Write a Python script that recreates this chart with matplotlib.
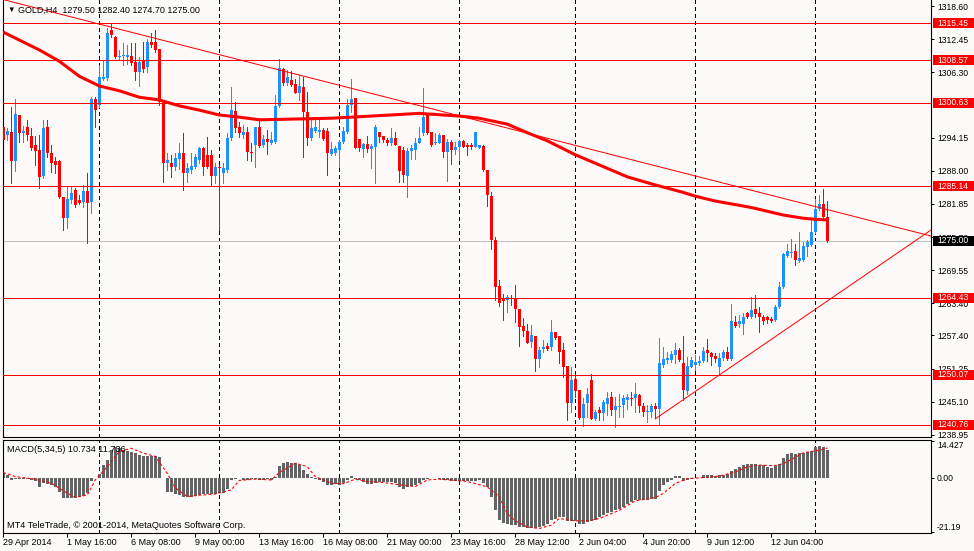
import matplotlib
matplotlib.use('Agg')
import matplotlib.pyplot as plt
import matplotlib.transforms as mtransforms
from matplotlib.patches import Rectangle

plt.rcParams['font.family'] = ['Liberation Sans', 'DejaVu Sans']

BG = '#fffafa'
BULL = '#1e90ff'
BEAR = '#ff0000'
HISTC = '#646464'

# GOLD H4 candles, bar 0 = 29 Apr 2014 00:00
opens = [
    1296.2, 1294.7, 1295.2, 1289.8, 1298.4, 1295.0, 1296.2, 1294.5, 1292.8, 1291.9,
    1287.0, 1296.2, 1291.3, 1289.8, 1289.8, 1283.1, 1279.2, 1282.6, 1284.4, 1282.6,
    1282.2, 1284.2, 1282.2, 1301.4, 1300.2, 1305.1, 1305.3, 1314.2, 1312.9, 1309.2,
    1309.4, 1309.2, 1309.4, 1308.3, 1306.4, 1308.6, 1307.3, 1312.0, 1312.0, 1310.7,
    1300.8, 1289.5, 1289.5, 1288.7, 1290.2, 1291.3, 1287.6, 1288.2, 1288.7, 1290.0,
    1292.3, 1291.0, 1291.0, 1287.0, 1288.7, 1287.6, 1288.2, 1294.1, 1299.1, 1296.2,
    1294.7, 1295.2, 1291.5, 1292.8, 1296.2, 1292.8, 1293.9, 1293.2, 1293.4, 1300.1,
    1306.9, 1304.3, 1304.9, 1304.2, 1302.5, 1303.6, 1299.0, 1294.1, 1295.4, 1295.2,
    1295.6, 1295.5, 1291.1, 1291.4, 1291.9, 1293.4, 1295.3, 1300.2, 1301.5, 1294.0,
    1292.0, 1293.0, 1292.0, 1292.4, 1295.3, 1294.5, 1293.7, 1293.2, 1294.1, 1292.6,
    1291.9, 1287.0, 1291.7, 1291.9, 1293.2, 1295.0, 1298.8, 1295.3, 1293.1, 1293.1,
    1294.7, 1291.6, 1293.4, 1291.8, 1292.4, 1293.6, 1292.8, 1292.8, 1292.4, 1292.2,
    1292.6, 1288.2, 1283.3, 1275.1, 1266.6, 1264.3, 1264.0, 1264.4, 1264.3, 1262.4,
    1259.1, 1258.3, 1256.2, 1257.3, 1253.1, 1254.8, 1255.4, 1255.3, 1258.1, 1257.3,
    1254.7, 1251.7, 1244.8, 1249.4, 1247.2, 1242.0, 1244.8, 1249.1, 1241.8, 1243.5,
    1243.0, 1244.6, 1245.9, 1243.5, 1244.1, 1244.5, 1245.4, 1245.8, 1245.7, 1246.3,
    1244.3, 1243.2, 1243.2, 1244.3, 1243.7, 1251.9, 1252.9, 1252.9, 1253.8, 1254.7,
    1252.3, 1247.1, 1251.6, 1251.9, 1252.2, 1252.7, 1254.7, 1254.2, 1253.5, 1251.6,
    1253.3, 1254.4, 1253.1, 1259.9, 1259.6, 1259.5, 1261.5, 1260.8, 1262.3, 1261.6,
    1260.9, 1260.9, 1260.4, 1260.3, 1262.7, 1266.4, 1272.2, 1272.7, 1273.1, 1271.3,
    1271.4, 1273.8, 1274.2, 1276.7, 1280.9, 1281.9, 1279.5,
]
highs = [
    1296.5, 1296.0, 1299.9, 1301.4, 1298.4, 1296.4, 1297.5, 1296.0, 1294.5, 1294.7,
    1297.5, 1297.5, 1292.8, 1290.6, 1290.0, 1283.1, 1285.0, 1285.0, 1284.8, 1283.5,
    1285.4, 1287.6, 1301.7, 1301.7, 1307.7, 1308.6, 1314.6, 1315.3, 1313.1, 1310.5,
    1311.8, 1311.4, 1311.8, 1311.8, 1309.2, 1312.0, 1312.5, 1313.6, 1314.2, 1310.7,
    1300.8, 1291.3, 1291.0, 1291.3, 1293.2, 1295.0, 1289.5, 1291.3, 1291.2, 1292.5,
    1292.5, 1294.3, 1291.9, 1289.5, 1289.1, 1289.5, 1295.0, 1303.6, 1300.8, 1297.1,
    1296.5, 1296.2, 1293.2, 1296.2, 1297.8, 1294.7, 1295.6, 1295.2, 1302.1, 1308.8,
    1307.1, 1306.8, 1306.6, 1305.1, 1305.8, 1305.5, 1302.7, 1297.8, 1297.8, 1298.0,
    1296.0, 1296.0, 1293.4, 1292.6, 1293.7, 1296.2, 1301.3, 1305.0, 1301.5, 1294.0,
    1293.1, 1294.5, 1293.0, 1296.5, 1295.3, 1294.5, 1294.1, 1296.0, 1295.3, 1292.6,
    1292.4, 1292.2, 1292.8, 1294.2, 1296.2, 1303.5, 1298.8, 1295.3, 1295.1, 1295.0,
    1294.7, 1294.0, 1293.7, 1293.4, 1293.7, 1293.8, 1293.1, 1293.1, 1295.3, 1292.8,
    1292.8, 1288.2, 1284.1, 1275.8, 1267.7, 1265.2, 1264.9, 1264.9, 1266.8, 1262.4,
    1260.6, 1259.6, 1259.3, 1257.3, 1255.3, 1256.5, 1256.0, 1260.3, 1258.1, 1257.3,
    1256.0, 1251.7, 1251.6, 1250.3, 1247.2, 1245.7, 1247.6, 1250.3, 1243.5, 1244.1,
    1245.4, 1246.9, 1246.9, 1246.0, 1246.6, 1246.3, 1246.6, 1246.9, 1248.6, 1246.5,
    1244.8, 1244.5, 1244.6, 1244.8, 1256.9, 1255.3, 1254.4, 1254.5, 1256.0, 1255.0,
    1257.3, 1253.4, 1253.4, 1253.7, 1253.6, 1255.3, 1256.7, 1254.4, 1254.1, 1254.2,
    1254.7, 1255.3, 1263.2, 1261.0, 1261.2, 1261.5, 1261.8, 1264.6, 1264.9, 1262.7,
    1261.2, 1261.0, 1260.9, 1263.1, 1267.4, 1272.7, 1274.4, 1275.3, 1274.4, 1276.7,
    1274.8, 1275.1, 1279.5, 1282.7, 1283.5, 1284.6, 1282.4,
]
lows = [
    1293.4, 1293.7, 1285.7, 1288.0, 1293.4, 1293.4, 1293.7, 1291.9, 1289.1, 1284.8,
    1286.7, 1290.6, 1287.8, 1287.6, 1282.9, 1277.0, 1277.4, 1282.0, 1281.3, 1281.8,
    1281.3, 1274.6, 1280.2, 1296.2, 1299.9, 1304.9, 1304.9, 1312.9, 1309.0, 1308.8,
    1307.7, 1307.9, 1307.7, 1304.9, 1303.8, 1306.4, 1306.4, 1311.0, 1310.1, 1300.2,
    1285.9, 1288.2, 1286.9, 1288.2, 1288.3, 1284.4, 1285.9, 1287.6, 1288.5, 1289.5,
    1287.2, 1288.5, 1285.2, 1285.7, 1277.0, 1285.7, 1287.8, 1293.7, 1295.2, 1294.3,
    1294.1, 1290.0, 1289.8, 1288.7, 1292.4, 1292.4, 1291.1, 1293.0, 1293.2, 1299.9,
    1304.0, 1304.0, 1303.8, 1302.5, 1301.2, 1290.6, 1292.8, 1293.7, 1295.2, 1294.3,
    1293.7, 1287.2, 1290.9, 1290.9, 1288.8, 1293.1, 1295.1, 1299.0, 1292.2, 1291.7,
    1290.6, 1291.6, 1288.5, 1285.7, 1293.4, 1293.4, 1292.9, 1292.8, 1292.8, 1286.0,
    1286.0, 1283.1, 1290.3, 1290.3, 1293.1, 1294.7, 1294.8, 1292.6, 1293.0, 1293.1,
    1290.6, 1286.2, 1289.3, 1291.1, 1290.0, 1292.4, 1291.0, 1292.0, 1292.4, 1292.2,
    1288.0, 1281.4, 1273.4, 1264.0, 1262.9, 1260.3, 1261.8, 1263.1, 1260.0, 1255.4,
    1257.3, 1256.0, 1255.2, 1250.8, 1251.6, 1254.4, 1254.7, 1254.7, 1256.7, 1252.3,
    1249.7, 1241.7, 1243.2, 1246.0, 1241.8, 1240.5, 1242.3, 1241.8, 1241.7, 1241.7,
    1241.7, 1242.6, 1242.6, 1240.3, 1242.3, 1242.3, 1243.8, 1244.5, 1243.2, 1243.2,
    1242.4, 1241.4, 1242.3, 1242.0, 1240.7, 1251.6, 1252.2, 1252.5, 1252.3, 1252.7,
    1245.4, 1246.6, 1251.6, 1251.0, 1251.9, 1252.5, 1252.7, 1251.9, 1252.5, 1250.3,
    1252.9, 1252.8, 1252.8, 1259.0, 1258.9, 1257.7, 1260.6, 1260.6, 1260.9, 1258.1,
    1259.5, 1259.8, 1259.9, 1260.1, 1262.6, 1266.3, 1272.0, 1272.0, 1270.5, 1271.1,
    1271.3, 1272.2, 1274.0, 1276.5, 1280.7, 1279.4, 1274.7,
]
closes = [
    1293.7, 1295.4, 1289.8, 1298.6, 1295.0, 1295.4, 1294.7, 1292.3, 1291.7, 1286.9,
    1296.0, 1291.3, 1289.5, 1289.1, 1283.1, 1279.2, 1282.8, 1283.9, 1281.6, 1282.0,
    1284.2, 1282.0, 1301.4, 1299.3, 1305.5, 1305.5, 1313.6, 1313.3, 1309.2, 1309.4,
    1309.5, 1309.5, 1308.1, 1306.4, 1308.3, 1306.9, 1312.0, 1311.4, 1310.5, 1300.8,
    1289.5, 1290.0, 1288.7, 1290.4, 1291.3, 1287.6, 1288.5, 1288.9, 1290.6, 1292.3,
    1288.7, 1288.7, 1287.0, 1288.7, 1288.5, 1288.5, 1294.1, 1299.3, 1296.0, 1295.0,
    1295.2, 1291.5, 1291.3, 1296.2, 1292.6, 1293.9, 1293.4, 1293.7, 1300.1, 1307.1,
    1304.3, 1305.5, 1304.0, 1302.5, 1303.8, 1299.0, 1294.1, 1296.0, 1296.2, 1295.6,
    1293.9, 1291.4, 1292.0, 1292.2, 1293.4, 1295.5, 1300.2, 1301.3, 1292.2, 1292.2,
    1293.0, 1292.0, 1292.6, 1296.2, 1294.3, 1293.7, 1293.2, 1294.1, 1292.8, 1287.9,
    1287.2, 1291.7, 1292.2, 1293.2, 1294.2, 1298.1, 1295.1, 1292.8, 1293.4, 1294.7,
    1291.6, 1293.4, 1291.8, 1292.4, 1293.6, 1292.4, 1292.4, 1292.4, 1295.3, 1292.8,
    1288.2, 1283.5, 1275.1, 1266.4, 1263.5, 1263.8, 1264.6, 1264.2, 1262.4, 1259.0,
    1258.3, 1256.0, 1257.5, 1253.1, 1254.7, 1255.3, 1254.8, 1258.1, 1257.0, 1254.4,
    1251.6, 1244.8, 1249.1, 1247.1, 1242.1, 1244.6, 1246.6, 1241.8, 1243.2, 1243.0,
    1245.1, 1245.7, 1243.5, 1244.3, 1244.3, 1245.7, 1246.0, 1245.5, 1246.5, 1244.3,
    1243.2, 1243.4, 1244.3, 1243.7, 1252.2, 1253.1, 1253.2, 1253.9, 1254.7, 1252.8,
    1247.2, 1251.7, 1252.8, 1252.5, 1252.7, 1254.5, 1254.2, 1253.4, 1253.1, 1253.3,
    1254.4, 1253.1, 1260.1, 1259.1, 1260.1, 1260.9, 1260.8, 1262.1, 1261.4, 1260.9,
    1260.1, 1260.3, 1260.1, 1262.7, 1266.4, 1272.5, 1273.1, 1273.0, 1271.4, 1271.9,
    1274.0, 1274.8, 1276.7, 1281.0, 1281.9, 1279.5, 1275.0,
]

# moving average (thick red), read at some bars
ma_idx = [0, 9, 14, 19, 24, 29, 34, 39, 44, 49, 54, 59, 64, 70, 82, 92, 104,
          114, 119, 126, 131, 136, 143, 150, 156, 162, 170, 173, 178, 187, 195,
          200, 203, 206]
ma_val = [1313.8, 1310.5, 1308.4, 1305.6, 1303.8, 1302.9, 1301.7, 1301.2,
          1300.1, 1299.3, 1298.4, 1298.0, 1297.5, 1297.6, 1297.8, 1298.2,
          1298.7, 1298.2, 1297.8, 1296.7, 1295.1, 1293.6, 1291.0, 1288.8,
          1286.9, 1285.6, 1284.0, 1283.3, 1282.4, 1281.2, 1279.8, 1279.2,
          1279.0, 1278.9]

levels = [1315.45, 1308.57, 1300.63, 1285.14, 1264.43, 1250.07, 1240.76]
last_price = 1275.00
upper_trend = [(24, 1315.3), (231.9, 1275.9)]
lower_trend = [(163, 1241.9), (231.9, 1277.0)]

price_ticks = [1318.60, 1312.45, 1306.30, 1294.15, 1288.00, 1281.85, 1275.70,
               1269.55, 1263.40, 1257.40, 1251.25, 1245.10, 1238.95]

grid_idx = [24, 54, 84, 114, 143, 173, 203]
xlab_idx = [0, 16, 32, 48, 64, 80, 96, 112, 128, 144, 160, 176, 192]
xlab_txt = ['29 Apr 2014', '1 May 16:00', '6 May 08:00', '9 May 00:00',
            '13 May 16:00', '16 May 08:00', '21 May 00:00', '23 May 16:00',
            '28 May 12:00', '2 Jun 04:00', '4 Jun 20:00', '9 Jun 12:00',
            '12 Jun 04:00']

# MACD(5,34,5) histogram and signal
macd_hist = [
    2.0, 1.0, -1.0, -0.3, -0.3, -0.4, -0.5, -1.0, -1.4, -3.4,
    -2.1, -2.3, -2.7, -3.4, -5.4, -7.7, -7.7, -7.7, -7.7, -7.3,
    -6.9, -6.0, -1.4, -0.2, 1.6, 5.1, 7.0, 11.0, 12.0, 11.6,
    11.0, 10.7, 10.3, 9.7, 9.0, 8.4, 8.4, 8.6, 8.4, 8.0,
    -0.1, -5.4, -5.4, -6.3, -6.7, -7.6, -7.6, -7.3, -7.0, -6.7,
    -6.3, -6.3, -6.3, -6.3, -6.0, -6.0, -4.4, -0.8, -0.5, -0.1,
    -0.8, -0.8, -0.5, -0.5, -0.8, -0.8, -0.5, -0.8, 0.5, 4.7,
    5.7, 6.3, 6.0, 5.7, 5.1, 3.1, 1.6, 0.5, -0.5, -0.8,
    -1.8, -2.7, -2.7, -2.3, -2.7, -2.1, -0.8, 0.8, -0.5, -0.8,
    -1.8, -2.3, -2.3, -2.1, -1.8, -1.8, -1.8, -1.8, -2.1, -3.4,
    -4.4, -3.7, -3.1, -2.7, -2.1, -0.8, -0.3, -0.1, -0.1, -0.5,
    -1.0, -1.0, -1.4, -1.4, -1.4, -1.4, -1.4, -1.4, -1.4, -1.0,
    -2.1, -3.5, -7.4, -12.7, -16.3, -17.6, -18.1, -18.5, -18.5, -19.2,
    -19.4, -19.8, -19.8, -19.8, -19.4, -18.9, -18.1, -16.6, -15.9, -15.3,
    -15.5, -16.8, -16.8, -16.8, -18.1, -17.9, -17.2, -16.8, -16.3, -15.5,
    -14.6, -13.7, -13.3, -12.7, -12.0, -11.4, -10.3, -9.4, -8.7, -8.7,
    -8.7, -8.5, -8.1, -8.1, -5.1, -2.9, -1.6, -0.7, 0.7, 0.7,
    -1.2, -0.9, -0.4, -0.1, 0.1, 1.0, 1.0, 1.0, 0.7, 1.0,
    1.0, 1.4, 2.6, 3.3, 4.3, 5.0, 5.4, 5.4, 5.4, 5.0,
    5.2, 4.3, 4.0, 4.6, 5.4, 7.6, 9.3, 9.8, 9.5, 9.8,
    9.8, 10.2, 10.6, 12.1, 12.4, 11.9, 10.734,
]
sig_idx = [0, 3, 8, 12, 16, 18, 21, 23, 26, 29, 32, 35, 38, 41, 43, 46, 49,
           53, 57, 59, 63, 67, 69, 73, 76, 78, 82, 85, 88, 91, 95, 99, 103,
           106, 109, 116, 121, 124, 126, 128, 131, 134, 137, 139, 143, 146,
           149, 154, 158, 163, 165, 168, 171, 174, 179, 183, 186, 189, 193,
           195, 198, 200, 203, 205, 206]
sig_val = [2.1, 0.5, -0.5, -2.1, -6.0, -7.6, -6.7, -0.8, 4.4, 10.3, 11.6, 9.7,
           8.4, 1.8, -4.0, -7.3, -6.8, -6.3, -4.7, -1.0, -0.5, -0.8, 2.1, 5.7,
           4.4, 0.5, -2.1, -2.3, -0.5, -1.4, -1.8, -2.7, -3.4, -0.8, -0.5,
           -1.4, -3.5, -7.4, -14.0, -16.8, -19.2, -19.8, -18.5, -15.9, -16.8,
           -16.8, -15.9, -12.7, -9.0, -7.7, -6.1, -2.2, -0.3, 0.0, 0.7, 2.3,
           4.3, 5.0, 4.8, 5.6, 8.0, 9.8, 10.6, 11.1, 11.736]

# ---- layout in pixels ----
W, H = 974, 551
fig = plt.figure(figsize=(W / 100, H / 100), dpi=100, facecolor=BG)


def px_axes(x0, y0, x1, y1):
    return fig.add_axes([x0 / W, 1 - y1 / H, (x1 - x0) / W, (y1 - y0) / H])


ax = px_axes(2.5, 0, 931, 437.3)
ax2 = px_axes(2.5, 440, 931, 532.7)
for a in (ax, ax2):
    a.set_facecolor(BG)
    a.set_xlim(-0.2, 231.93)
    for s in a.spines.values():
        s.set_linewidth(0.8)
ax.spines['top'].set_visible(False)
ax.set_ylim(1238.47, 1319.78)
ax2.set_ylim(-21.45, 14.83)

idx = list(range(len(opens)))
cols = [BULL if c >= o else BEAR for o, c in zip(opens, closes)]
bottoms = [min(o, c) for o, c in zip(opens, closes)]
heights = [max(abs(c - o), 0.19) for o, c in zip(opens, closes)]

for g in grid_idx:
    for a in (ax, ax2):
        a.axvline(g, color='black', lw=0.72, ls=(0, (3, 3)), zorder=1,
                  antialiased=False)
ax.axhline(last_price, color='#c0c0c0', lw=0.72, zorder=1, antialiased=False)

ax.vlines(idx, lows, highs, colors=cols, lw=0.72, zorder=2, antialiased=False)
ax.bar(idx, heights, bottom=bottoms, width=0.75, color=cols, lw=0,
       zorder=3, antialiased=False)

ax.plot(ma_idx, ma_val, color=BEAR, lw=2.2, zorder=4, solid_capstyle='butt')
for lv in levels:
    ax.axhline(lv, color=BEAR, lw=0.72, zorder=4.5, antialiased=False)
ax.axline(upper_trend[0], upper_trend[1], color=BEAR, lw=0.72, zorder=4.5)
ax.plot([p[0] for p in lower_trend], [p[1] for p in lower_trend],
        color=BEAR, lw=0.72, zorder=4.5)

# price scale on the right
ax.set_xticks([])
ax.yaxis.tick_right()
ax.set_yticks(price_ticks)
ax.set_yticklabels([f'{v:.2f}' for v in price_ticks])
ax.tick_params(axis='y', length=2.16, width=0.72, pad=2.2, labelsize=6.2)

trans = mtransforms.blended_transform_factory(ax.transAxes, ax.transData)
axw = 928.5
ppx = (1319.78 - 1238.47) / 437.3
hh = 5 * ppx
for lv, fc in [(v, BEAR) for v in levels] + [(last_price, 'black')]:
    ax.add_patch(Rectangle((1 + 1.5 / axw, lv - hh), 43 / axw, 2 * hh,
                           transform=trans, fc=fc, ec='none', zorder=6,
                           clip_on=False))
    ax.text(1 + 6.3 / axw, lv, f'{lv:.2f}', transform=trans, color='white',
            fontsize=6.2, va='center', ha='left', zorder=7, clip_on=False)

# MACD panel
ax2.bar(idx, macd_hist, width=0.75, color=HISTC, lw=0, zorder=2,
        antialiased=False)
ax2.plot(sig_idx, sig_val, color=BEAR, lw=0.8, ls=(0, (2.5, 2)), zorder=3)
ax2.yaxis.tick_right()
ax2.set_yticks([14.427, 0.0, -21.19])
ax2.set_yticklabels(['14.427', '0.00', '-21.19'])
ax2.tick_params(axis='y', length=2.16, width=0.72, pad=2.2, labelsize=6.2)
ylabs = ax2.get_yticklabels()
ylabs[0].set_va('top')
ylabs[2].set_va('bottom')

ax2.set_xticks(xlab_idx)
ax2.set_xticklabels(xlab_txt)
ax2.tick_params(axis='x', length=2.9, width=0.72, pad=1.2, labelsize=6.5)
for lbl in ax2.get_xticklabels():
    lbl.set_ha('left')

fig.text(7 / W, 1 - 10.8 / H, '\u25bc', fontsize=5.5, va='center', ha='left')
fig.text(18 / W, 1 - 10.8 / H, 'GOLD,H4  1279.50 1282.40 1274.70 1275.00',
         fontsize=6.5, va='center', ha='left')
fig.text(7.3 / W, 1 - 450 / H, 'MACD(5,34,5) 10.734 11.736', fontsize=6.6,
         va='center', ha='left')
fig.text(7.3 / W, 1 - 525.7 / H,
         'MT4 TeleTrade, \u00a9 2001-2014, MetaQuotes Software Corp.',
         fontsize=6.6, va='center', ha='left')

fig.savefig('out.png', dpi=100, facecolor=BG)
